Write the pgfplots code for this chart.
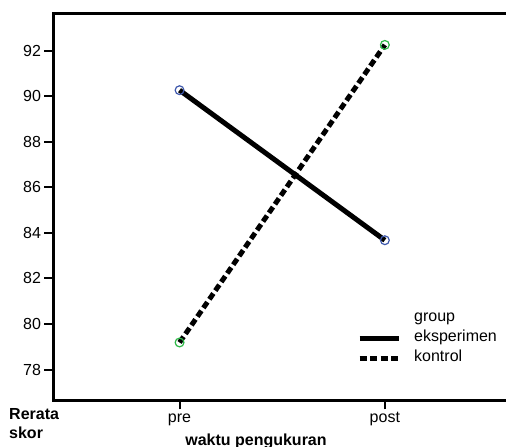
\documentclass[border=0pt]{standalone}
\usepackage{fontspec}
\setmainfont{Liberation Sans}
\usepackage{pgfplots}
\pgfplotsset{compat=1.18}
\usetikzlibrary{calc}
\definecolor{spssblue}{HTML}{3E58AC}
\definecolor{spssgreen}{HTML}{2EB848}
\newcommand\cf{\fontsize{16bp}{19bp}\selectfont}

\begin{document}
\begin{tikzpicture}
% the frame runs on past the right edge of the page, as in the reference
\begin{axis}[name=ax, scale only axis, width=480bp, height=386.6bp,
  xmin=-0.614, xmax=1.724, ymin=76.65, ymax=93.63,
  axis line style={line width=2.4bp},
  xtick={0,1}, xticklabels={pre,post},
  ytick={78,80,...,92},
  xtick pos=bottom, ytick pos=left,
  tick align=outside, major tick length=9bp,
  every tick/.style={black, line width=2bp},
  tick label style={font=\cf},
  /pgf/number format/assume math mode=true,
  xticklabel style={inner sep=0pt, text height=11bp, text depth=3bp, yshift=-2bp},
  xlabel={waktu pengukuran},
  every axis x label/.style={at={(rel axis cs:0,0)}, anchor=base, xshift=202.5bp, yshift=-44.7bp,
    font=\cf\bfseries, inner sep=0pt},
  ylabel={Rerata\\skor},
  every axis y label/.style={at={(rel axis cs:0,0)}, anchor=north west, xshift=-44.5bp, yshift=-7.7bp,
    align=left, font=\cf\bfseries, inner sep=0pt},
  legend cell align=left,
  legend style={draw=none, fill=none, at={(0.6323,0.2388)}, anchor=north west,
    font=\cf, row sep=0pt, column sep=11.5bp, inner sep=0pt,
    nodes={inner sep=1.5bp, text height=11.5bp, text depth=5.8bp}},
  legend image code/.code={\draw[#1] (0bp,0bp) -- (39bp,0bp);},
]
\addlegendimage{empty legend}
\addlegendentry{group}
\addplot[black, line width=5bp, mark=o, mark size=4.4bp,
  mark options={solid, draw=spssblue, line width=1.2bp}]
  coordinates {(0,90.27) (1,83.68)};
\addlegendentry{eksperimen}
\addplot[black, line width=5bp, dash pattern=on 7bp off 3.5bp, mark=o, mark size=4.4bp,
  mark options={solid, draw=spssgreen, line width=1.2bp}]
  coordinates {(0,79.19) (1,92.26)};
\addlegendentry{kontrol}
\end{axis}
\pgfresetboundingbox
\path[use as bounding box] ($(ax.south west)+(-53.5bp,-46.7bp)$) rectangle ($(ax.north west)+(452.5bp,13.7bp)$);
\end{tikzpicture}
\end{document}
